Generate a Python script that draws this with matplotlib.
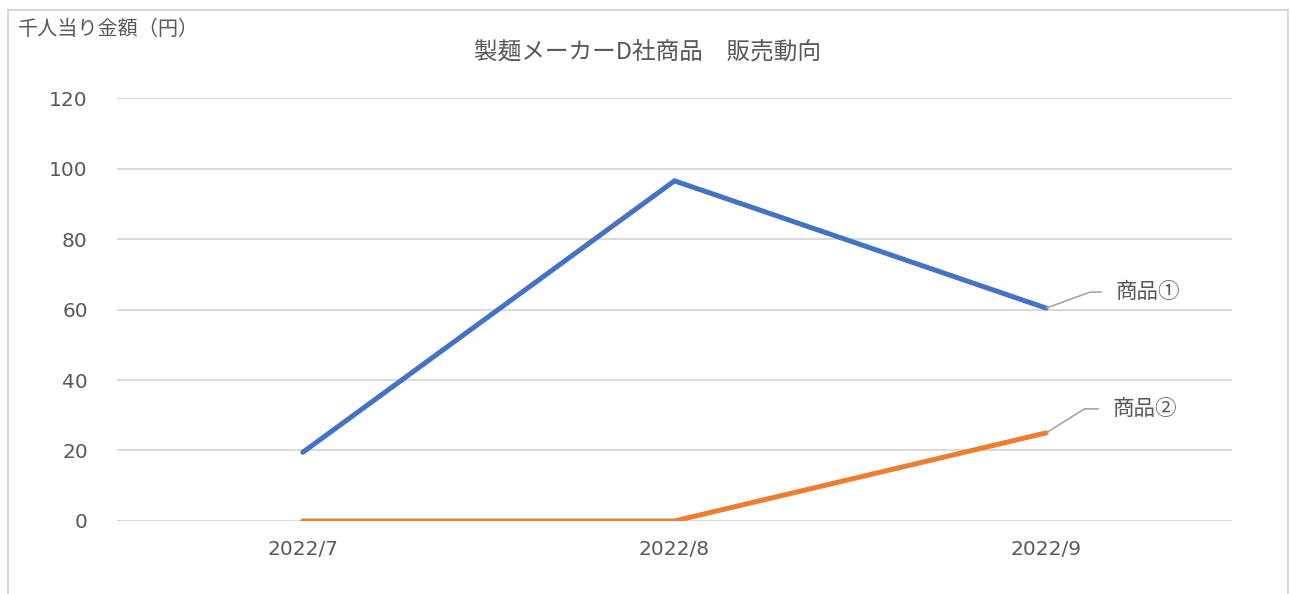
import matplotlib
matplotlib.use("Agg")
import matplotlib.pyplot as plt
from matplotlib.patches import Rectangle

plt.rcParams['font.family'] = ['Noto Sans CJK JP', 'DejaVu Sans']

months = ["2022/7", "2022/8", "2022/9"]
product1 = [19.5, 96.5, 60.4]
product2 = [0, 0, 25]
series_names = ["商品①", "商品②"]
title = "製麺メーカーD社商品　販売動向"
ylabel = "千人当り金額（円）"

text_color = "#595959"
grid_color = "#d9d9d9"
colors = ["#4472C4", "#ED7D31"]

fig = plt.figure(figsize=(12.9, 5.94), dpi=100)
ax = fig.add_axes([0.0907, 0.1229, 0.8643, 0.7121])

x = list(range(len(months)))
ax.plot(x, product1, color=colors[0], lw=3.6, solid_capstyle="round", solid_joinstyle="miter")
ax.plot(x, product2, color=colors[1], lw=3.6, solid_capstyle="round", solid_joinstyle="miter")

ax.set_xlim(-0.5, len(months) - 0.5)
ax.set_ylim(0, 120)
ax.set_yticks(range(0, 121, 20))
ax.set_xticks(x)
ax.set_xticklabels(months)
ax.grid(axis="y", color=grid_color, lw=1.4)
ax.set_axisbelow(True)
for s in ax.spines.values():
    s.set_visible(False)
ax.tick_params(axis="both", length=0, labelsize=14.5, colors=text_color)
ax.tick_params(axis="y", pad=21)
ax.tick_params(axis="x", pad=14)
for lab in ax.get_xticklabels() + ax.get_yticklabels():
    lab.set_family("DejaVu Sans")

# leader-line labels at the last point
offsets = [(69, 16), (66, 24)]
angles = [20, 32]
for name, vals, off, ang in zip(series_names, [product1, product2], offsets, angles):
    ax.annotate(name, xy=(x[-1], vals[-1]), xytext=off, textcoords="offset pixels",
                ha="left", va="center", fontsize=15.5, color=text_color,
                arrowprops=dict(arrowstyle="-", color="#a6a6a6", lw=1.2,
                                shrinkA=8, shrinkB=0,
                                connectionstyle=f"angle,angleA=180,angleB={ang},rad=0"))

fig.text(0.5016, 0.912, title, ha="center", va="center", fontsize=17, color=text_color)
fig.text(0.014, 0.9495, ylabel, ha="left", va="center", fontsize=14.5, color=text_color)

fig.patches.append(Rectangle((8 / 1290, -0.01), 1280 / 1290, 1 - 10 / 594 + 0.01,
                             transform=fig.transFigure, fill=False,
                             edgecolor=grid_color, lw=1.5))

fig.savefig("out.png", dpi=100)
